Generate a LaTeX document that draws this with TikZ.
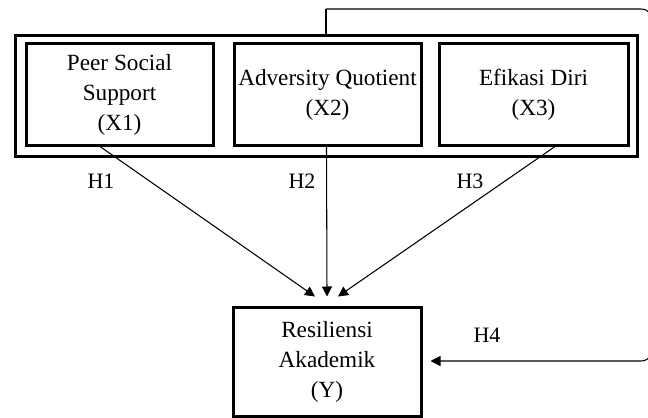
\documentclass[tikz,border=0pt]{standalone}
\usepackage{fontspec}
\setmainfont{Liberation Serif}
\usetikzlibrary{arrows.meta,calc}
\begin{document}
\begin{tikzpicture}[x=0.75pt,y=-0.75pt,
  varbox/.style={draw,line width=2.25pt,inner sep=0pt,align=center,
    font=\fontsize{17.4}{22.5}\selectfont},
  hlabel/.style={inner sep=0pt,font=\fontsize{16.5}{20}\selectfont},
  conn/.style={line width=0.8pt},
  arr/.style={conn,-{Triangle[length=7.5pt,width=7.5pt]}}]
\useasboundingbox (0,0) rectangle (648,417);
% outer frame
\node[draw,line width=2.25pt,minimum width=466.5pt,minimum height=90pt,inner sep=0pt] (outer) at (326,96) {};
% inner boxes
\node[varbox,minimum width=140.25pt,minimum height=75.75pt] (b1) at (119.5,94.5) {Peer Social\\Support\\(X1)};
\node[varbox,minimum width=140.25pt,minimum height=75.75pt] (b2) at (327.5,94.5) {Adversity Quotient\\(X2)};
\node[varbox,minimum width=141.75pt,minimum height=75.75pt] (b3) at (533.5,94.5) {Efikasi Diri\\(X3)};
% dependent variable
\node[varbox,minimum width=141pt,minimum height=81.75pt] (y) at (327,361.5) {Resiliensi\\Akademik\\(Y)};
% hypothesis labels
\node[hlabel] (h1) at (101,181) {H1};
\node[hlabel] (h2) at (302,181) {H2};
\node[hlabel] (h3) at (470,181) {H3};
\node[hlabel] (h4) at (487,335) {H4};
% connectors
\draw[arr] ($(b1.south)+(-19.5,0)$) -- ($(y.north)+(-12,-9)$);
\draw[arr] ($(b2.south)+(-1,0)$) -- ($(y.north)+(0,-9)$);
\draw[arr] ($(b3.south)+(21.5,0)$) -- ($(y.north)+(11,-9)$);
% feedback path H4
\coordinate (top) at (326,9);
\coordinate (tr) at (654,9);
\coordinate (br) at (654,361);
\draw[conn] (outer.north) -- (top);
\draw[arr,rounded corners=10] (top) -- (tr) -- (br) -- ($(y.east)+(8,-0.5)$);
\end{tikzpicture}
\end{document}
